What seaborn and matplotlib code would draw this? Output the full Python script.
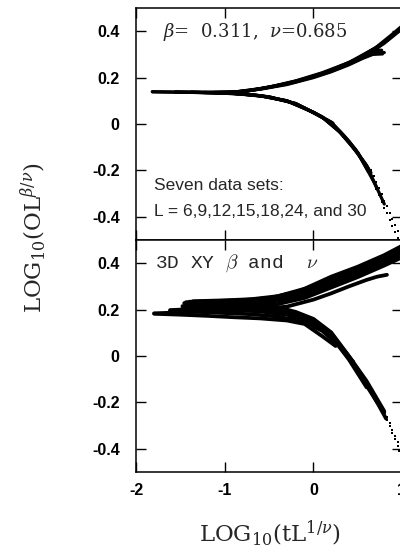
import matplotlib
matplotlib.use("Agg")
import matplotlib.pyplot as plt
import pandas as pd
import seaborn as sns

# ---------------- data ----------------
L_sizes = [6, 9, 12, 15, 18, 24, 30]

# top panel: beta=0.311, nu=0.685 ; ordered (upper) branch
top_upper_x = [
    [-1.82, -1.5, -1.2, -0.9, -0.6, -0.3, 0.0, 0.2, 0.4, 0.55, 0.67, 0.78],
    [-1.56, -1.2, -0.9, -0.6, -0.3, 0.0, 0.2, 0.4, 0.6, 0.71, 0.80],
    [-1.38, -1.1, -0.8, -0.5, -0.2, 0.1, 0.4, 0.6, 0.70, 0.77],
    [-1.24, -0.9, -0.6, -0.3, 0.0, 0.3, 0.6, 0.8, 1.0, 1.15],
    [-1.12, -0.8, -0.5, -0.2, 0.1, 0.4, 0.7, 0.9, 1.1],
    [-0.94, -0.7, -0.4, -0.1, 0.2, 0.5, 0.8, 1.0, 1.15],
    [-0.8, -0.5, -0.2, 0.1, 0.4, 0.7, 0.9, 1.1],
]
top_upper_y = [
    [0.139, 0.137, 0.136, 0.137, 0.150, 0.170, 0.200, 0.225, 0.255, 0.282, 0.300, 0.302],
    [0.138, 0.136, 0.137, 0.152, 0.172, 0.203, 0.228, 0.258, 0.292, 0.310, 0.308],
    [0.137, 0.136, 0.139, 0.158, 0.182, 0.217, 0.260, 0.298, 0.318, 0.318],
    [0.136, 0.137, 0.153, 0.174, 0.205, 0.244, 0.298, 0.348, 0.410, 0.450],
    [0.136, 0.139, 0.158, 0.184, 0.218, 0.262, 0.322, 0.382, 0.445],
    [0.137, 0.145, 0.166, 0.194, 0.232, 0.282, 0.352, 0.418, 0.460],
    [0.139, 0.159, 0.186, 0.221, 0.265, 0.328, 0.390, 0.455],
]
# top panel ; disordered (lower) branch
top_lower_x = [
    [-1.82, -1.5, -1.2, -0.9, -0.6, -0.3, -0.1, 0.1, 0.22],
    [-1.56, -1.2, -0.9, -0.6, -0.3, 0.0, 0.2, 0.35, 0.48],
    [-1.38, -1.1, -0.8, -0.5, -0.2, 0.1, 0.3, 0.5, 0.62],
    [-1.24, -0.9, -0.6, -0.3, 0.0, 0.2, 0.4, 0.6, 0.72],
    [-1.12, -0.8, -0.5, -0.2, 0.1, 0.3, 0.5, 0.7, 0.8],
    [-0.94, -0.6, -0.3, 0.0, 0.2, 0.4, 0.6, 0.65],
    [-0.8, -0.5, -0.2, 0.1, 0.3, 0.5, 0.62],
]
top_lower_y = [
    [0.139, 0.137, 0.135, 0.131, 0.121, 0.099, 0.069, 0.028, 0.004],
    [0.138, 0.135, 0.132, 0.122, 0.100, 0.051, 0.008, -0.052, -0.112],
    [0.137, 0.134, 0.129, 0.116, 0.088, 0.029, -0.036, -0.125, -0.193],
    [0.136, 0.132, 0.122, 0.100, 0.050, 0.007, -0.074, -0.178, -0.280],
    [0.135, 0.130, 0.117, 0.088, 0.030, -0.033, -0.122, -0.262, -0.345],
    [0.133, 0.122, 0.100, 0.050, 0.005, -0.077, -0.180, -0.210],
    [0.130, 0.117, 0.088, 0.030, -0.034, -0.125, -0.205],
]
# dotted tails of the two largest sizes (top panel)
top_tail_x = [
    [0.65, 0.68, 0.71, 0.74, 0.77, 0.80, 0.83, 0.86, 0.89, 0.92, 0.95],
    [0.65, 0.68, 0.71, 0.74, 0.77, 0.80, 0.83, 0.86, 0.89, 0.92, 0.95, 0.97],
]
top_tail_y = [
    [-0.200, -0.225, -0.250, -0.275, -0.303, -0.330, -0.355, -0.383, -0.410, -0.435, -0.460],
    [-0.230, -0.255, -0.280, -0.305, -0.335, -0.360, -0.385, -0.415, -0.440, -0.465, -0.490, -0.500],
]

# bottom panel: 3D XY beta and nu ; ordered (upper) branch
bot_upper_x = [
    [-1.80, -1.5, -1.2, -0.9, -0.6, -0.3, 0.0, 0.2, 0.4, 0.6, 0.72, 0.83],
    [-1.62, -1.3, -1.0, -0.7, -0.4, -0.1, 0.2, 0.5, 0.8, 1.0],
    [-1.48, -1.2, -0.9, -0.6, -0.3, 0.0, 0.3, 0.6, 0.9, 1.1],
    [-1.46, -1.2, -0.9, -0.6, -0.3, 0.0, 0.3, 0.6, 0.9, 1.1],
    [-1.44, -1.1, -0.8, -0.5, -0.2, 0.1, 0.4, 0.7, 1.0, 1.1],
    [-1.40, -1.1, -0.8, -0.5, -0.2, 0.1, 0.4, 0.7, 1.0, 1.1],
    [-1.36, -1.0, -0.7, -0.4, -0.1, 0.2, 0.5, 0.8, 1.0, 1.1],
]
bot_upper_y = [
    [0.184, 0.188, 0.192, 0.196, 0.202, 0.213, 0.243, 0.270, 0.300, 0.328, 0.342, 0.350],
    [0.198, 0.203, 0.207, 0.212, 0.224, 0.250, 0.295, 0.340, 0.390, 0.425],
    [0.215, 0.218, 0.222, 0.228, 0.243, 0.272, 0.318, 0.362, 0.412, 0.445],
    [0.228, 0.230, 0.233, 0.238, 0.254, 0.283, 0.330, 0.375, 0.425, 0.460],
    [0.232, 0.235, 0.238, 0.246, 0.268, 0.305, 0.352, 0.398, 0.452, 0.470],
    [0.234, 0.237, 0.241, 0.250, 0.275, 0.318, 0.365, 0.410, 0.465, 0.485],
    [0.236, 0.240, 0.245, 0.258, 0.290, 0.342, 0.385, 0.435, 0.475, 0.495],
]
# bottom panel ; disordered (lower) branch
bot_lower_x = [
    [-1.80, -1.5, -1.2, -0.9, -0.6, -0.3, -0.1, 0.1, 0.25],
    [-1.62, -1.3, -1.0, -0.7, -0.4, -0.1, 0.1, 0.3, 0.45],
    [-1.48, -1.2, -0.9, -0.6, -0.3, 0.0, 0.2, 0.4, 0.6],
    [-1.46, -1.2, -0.9, -0.6, -0.3, 0.0, 0.2, 0.4, 0.6, 0.72],
    [-1.44, -1.1, -0.8, -0.5, -0.2, 0.0, 0.2, 0.4, 0.6, 0.82],
    [-1.40, -1.1, -0.8, -0.5, -0.2, 0.0, 0.2, 0.4, 0.6, 0.8],
    [-1.36, -1.0, -0.7, -0.4, -0.2, 0.0, 0.2, 0.4, 0.6, 0.8],
]
bot_lower_y = [
    [0.182, 0.178, 0.173, 0.167, 0.162, 0.153, 0.138, 0.085, 0.043],
    [0.194, 0.190, 0.185, 0.180, 0.170, 0.146, 0.108, 0.040, -0.025],
    [0.206, 0.203, 0.198, 0.192, 0.178, 0.140, 0.085, -0.015, -0.135],
    [0.212, 0.210, 0.206, 0.200, 0.186, 0.148, 0.090, -0.010, -0.128, -0.200],
    [0.216, 0.214, 0.210, 0.204, 0.183, 0.152, 0.094, -0.005, -0.118, -0.270],
    [0.219, 0.217, 0.214, 0.208, 0.187, 0.156, 0.098, -0.002, -0.112, -0.245],
    [0.222, 0.220, 0.216, 0.210, 0.190, 0.160, 0.102, 0.000, -0.108, -0.238],
]
bot_tail_x = [
    [0.83, 0.86, 0.89, 0.92, 0.95],
    [0.83, 0.86, 0.89, 0.92, 0.95, 0.97],
]
bot_tail_y = [
    [-0.265, -0.290, -0.318, -0.345, -0.372],
    [-0.275, -0.302, -0.330, -0.358, -0.387, -0.410],
]
tail_sizes = [24, 30]

x_ticks = [-2, -1, 0, 1]
x_tick_labels = ["-2", "-1", "0", "1"]
y_ticks = [-0.4, -0.2, 0, 0.2, 0.4]
y_tick_labels = ["-0.4", "-0.2", "0", "0.2", "0.4"]


def long_frame(xs, ys, sizes, branch):
    rows = []
    for L, xl, yl in zip(sizes, xs, ys):
        for i, (xv, yv) in enumerate(zip(xl, yl)):
            rows.append({"x": xv, "y": yv, "L": L, "branch": branch, "order": i,
                         "curve": f"{branch}-{L}"})
    return pd.DataFrame(rows)


top_lines = pd.concat([long_frame(top_upper_x, top_upper_y, L_sizes, "up"),
                       long_frame(top_lower_x, top_lower_y, L_sizes, "low")])
top_tails = long_frame(top_tail_x, top_tail_y, tail_sizes, "tail")
bot_lines = pd.concat([long_frame(bot_upper_x, bot_upper_y, L_sizes, "up"),
                       long_frame(bot_lower_x, bot_lower_y, L_sizes, "low")])
bot_tails = long_frame(bot_tail_x, bot_tail_y, tail_sizes, "tail")

# ---------------- style ----------------
sns.set_theme(style="ticks")
plt.rcParams["font.family"] = ["Liberation Sans", "DejaVu Sans"]
plt.rcParams["axes.unicode_minus"] = False
plt.rcParams["mathtext.fontset"] = "dejavuserif"

fig = plt.figure(figsize=(4.0, 5.47), dpi=100)
ax_top = fig.add_axes([0.341, 0.56124, 0.664, 0.42413])
ax_bot = fig.add_axes([0.341, 0.13711, 0.664, 0.42413])

for ax, lines, tails, lw in [(ax_top, top_lines, top_tails, 2.3),
                             (ax_bot, bot_lines, bot_tails, 2.7)]:
    sns.lineplot(data=lines, x="x", y="y", units="curve", estimator=None, sort=False,
                 color="black", linewidth=lw, ax=ax, legend=False)
    sns.scatterplot(data=tails, x="x", y="y", color="black", s=2, marker="s",
                    linewidth=0, ax=ax, legend=False)
    ax.set_xlim(-2, 1)
    ax.set_ylim(-0.5, 0.5)
    ax.set_xticks(x_ticks)
    ax.set_yticks(y_ticks)
    ax.set_yticklabels(y_tick_labels)
    ax.set_xlabel("")
    ax.set_ylabel("")
    for sp in ax.spines.values():
        sp.set_visible(True)
        sp.set_linewidth(1.1)
        sp.set_color("black")
    ax.tick_params(direction="in", length=7, width=1.0, color="black",
                   top=True, right=True, labelsize=11.5, labelcolor="black")
    ax.tick_params(axis="y", pad=12)
    ax.tick_params(axis="x", pad=8)
    for lab in ax.get_yticklabels():
        lab.set_fontweight("bold")
    ax.set_facecolor("white")

ax_top.tick_params(labelbottom=False)
ax_bot.set_xticklabels(x_tick_labels)
for lab in ax_bot.get_xticklabels():
    lab.set_fontweight("bold")

# annotations
ax_top.text(0.10, 0.874, r"$\beta$=  0.311,  $\nu$=0.685", transform=ax_top.transAxes,
            family="DejaVu Serif", math_fontfamily="dejavuserif", fontsize=13,
            va="baseline", ha="left")
ax_top.text(0.066, 0.2155, "Seven data sets:", transform=ax_top.transAxes,
            fontsize=12.5, va="baseline", ha="left")
ax_top.text(0.066, 0.103, "L = 6,9,12,15,18,24, and 30", transform=ax_top.transAxes,
            fontsize=12.5, va="baseline", ha="left")
ax_bot.text(0.07, 0.879, r"3D XY $\beta$ and  $\nu$", transform=ax_bot.transAxes,
            family="Liberation Mono", math_fontfamily="cm", fontsize=14,
            va="baseline", ha="left")

# axis titles
fig.text(270 / 400, 1 - 541 / 547, r"LOG$_{10}$(tL$^{1/\nu}$)", family="DejaVu Serif",
         fontsize=16.5, ha="center", va="baseline")
fig.text(33 / 400, 1 - 238 / 547, r"LOG$_{10}$(OL$^{\beta/\nu}$)", family="DejaVu Serif",
         fontsize=16.5, ha="center", va="center", rotation=90)

fig.savefig("out.png", dpi=100, facecolor="white")
